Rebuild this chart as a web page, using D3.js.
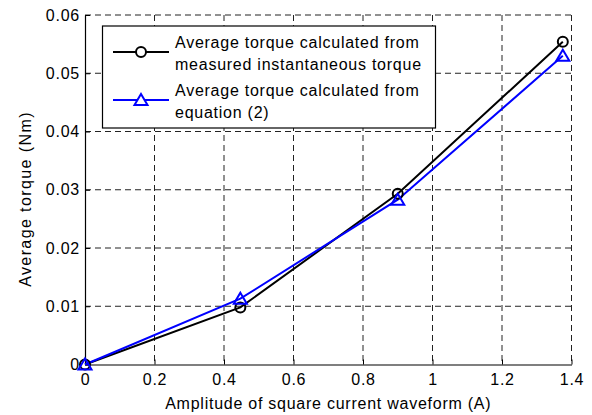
<!DOCTYPE html>
<html><head><meta charset="utf-8">
<script src="https://cdn.jsdelivr.net/npm/d3@7"></script>
<style>body{margin:0;background:#fff}svg{display:block}text{font-family:"Liberation Sans",Arial,sans-serif;fill:#000}</style>
</head><body><svg id="c" width="592" height="415"></svg>
<script>
const xValues = [0, 0.447, 0.9, 1.375];
const measured = [0, 0.0098, 0.0293, 0.0554];
const equation = [0, 0.0113, 0.0283, 0.0530];
const xTicks = [0, 0.2, 0.4, 0.6, 0.8, 1, 1.2, 1.4];
const yTicks = [0, 0.01, 0.02, 0.03, 0.04, 0.05, 0.06];
const legendLabels = [["Average torque calculated from","measured instantaneous torque"],["Average torque calculated from","equation (2)"]];
const xLabel = "Amplitude of square current waveform (A)";
const yLabel = "Average torque (Nm)";

const FS = 16, LS = 0.75;
const svg = d3.select("#c");
const m = {l:85, r:571.5, t:15, b:364.5};
const x = d3.scaleLinear().domain([0,1.4]).range([m.l,m.r]);
const y = d3.scaleLinear().domain([0,0.06]).range([m.b,m.t]);

// grid
const g = svg.append("g");
g.selectAll(".gx").data(xTicks.slice(1)).enter().append("line")
 .attr("x1",d=>x(d)).attr("x2",d=>x(d)).attr("y1",m.t).attr("y2",m.b)
 .attr("stroke","#222").attr("stroke-width",1).attr("stroke-dasharray","6,4");
g.selectAll(".gy").data(yTicks.slice(1)).enter().append("line")
 .attr("y1",d=>y(d)).attr("y2",d=>y(d)).attr("x1",m.l).attr("x2",m.r)
 .attr("stroke","#222").attr("stroke-width",1).attr("stroke-dasharray","6,4");

// axes
const xa = svg.append("g").attr("transform",`translate(0,${m.b})`)
 .call(d3.axisBottom(x).tickValues(xTicks).tickFormat(d3.format("")).tickSizeInner(-5).tickSizeOuter(0).tickPadding(9));
const ya = svg.append("g").attr("transform",`translate(${m.l},0)`)
 .call(d3.axisLeft(y).tickValues(yTicks).tickFormat(d=>d===0?"0":d3.format(".2f")(d)).tickSizeInner(-5).tickSizeOuter(0).tickPadding(5));
[xa,ya].forEach(a=>{a.select(".domain").attr("stroke","#000").attr("stroke-width",1.2);
 a.selectAll(".tick line").attr("stroke","#000");
 a.selectAll("text").attr("font-size",FS).attr("letter-spacing",LS).attr("font-family","Liberation Sans, Arial, sans-serif");});

// lines
const line = d3.line().x((d,i)=>x(xValues[i])).y(d=>y(d));
svg.append("path").datum(measured).attr("d",line).attr("fill","none").attr("stroke","#000").attr("stroke-width",2);
svg.append("path").datum(equation).attr("d",line).attr("fill","none").attr("stroke","#0000ff").attr("stroke-width",2);
const tri = "M0,-6L6.5,5L-6.5,5Z";
svg.selectAll(".mc").data(measured).enter().append("circle")
 .attr("cx",(d,i)=>x(xValues[i])).attr("cy",d=>y(d)).attr("r",5)
 .attr("fill","none").attr("stroke","#000").attr("stroke-width",2);
svg.selectAll(".mt").data(equation).enter().append("path")
 .attr("d",tri).attr("transform",(d,i)=>`translate(${x(xValues[i])},${y(d)})`)
 .attr("fill","none").attr("stroke","#0000ff").attr("stroke-width",2);

// legend
const lg = svg.append("g");
lg.append("rect").attr("x",102.5).attr("y",26).attr("width",333).attr("height",102)
 .attr("fill","#fff").attr("stroke","#000").attr("stroke-width",1.2);
const colors = ["#000","#0000ff"];
const ly = [52, 100];
legendLabels.forEach((lab,i)=>{
  lg.append("line").attr("x1",113).attr("x2",169).attr("y1",ly[i]).attr("y2",ly[i]).attr("stroke",colors[i]).attr("stroke-width",2);
  if(i===0) lg.append("circle").attr("cx",141).attr("cy",ly[i]).attr("r",5).attr("fill","#fff").attr("stroke","#000").attr("stroke-width",2);
  else lg.append("path").attr("d",tri).attr("transform",`translate(141,${ly[i]})`).attr("fill","#fff").attr("stroke","#0000ff").attr("stroke-width",2);
  lab.forEach((t,j)=>lg.append("text").attr("x",175).attr("y",ly[i]-4+j*22).attr("font-size",FS).attr("letter-spacing",LS).text(t));
});

// axis labels
svg.append("text").attr("x",(m.l+m.r)/2).attr("y",409).attr("text-anchor","middle").attr("font-size",FS).attr("letter-spacing",LS).text(xLabel);
svg.append("text").attr("transform",`translate(31,199) rotate(-90)`).attr("text-anchor","middle").attr("font-size",FS).attr("letter-spacing",1.4).text(yLabel);
</script></body></html>
